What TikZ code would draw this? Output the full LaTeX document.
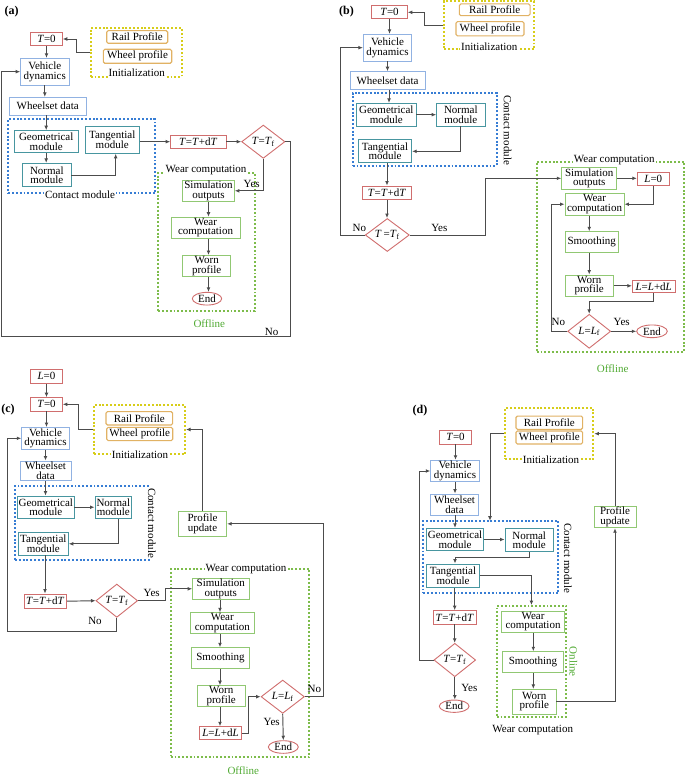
\documentclass[tikz,border=0pt]{standalone}
\usepackage{fontspec}
\setmainfont{Liberation Serif}
\usetikzlibrary{arrows.meta,shapes.geometric}
\definecolor{cRed}{RGB}{208,110,110}
\definecolor{cBlue}{RGB}{145,178,226}
\definecolor{cTeal}{RGB}{72,150,160}
\definecolor{cGreen}{RGB}{145,200,115}
\definecolor{cOrange}{RGB}{225,178,100}
\definecolor{cYellow}{RGB}{215,205,25}
\definecolor{cDBlue}{RGB}{55,125,212}
\definecolor{cDGreen}{RGB}{125,188,75}
\definecolor{cTxtGreen}{RGB}{80,170,50}
\newcommand\fs{\fontsize{11}{9.5}\selectfont\lineskiplimit=-6pt}
\newcommand\mkbox[6]{\node[#1,minimum width=#4pt,minimum height=#5pt] (#2) at (#3) {#6};}
\newcommand\iv[1]{\textit{#1}}
\tikzset{
  bxbase/.style={draw, line width=0.9pt, align=center, inner sep=1pt, font=\fs, fill=white},
  rbx/.style={bxbase, draw=cRed},
  bbx/.style={bxbase, draw=cBlue},
  tbx/.style={bxbase, draw=cTeal},
  gbx/.style={bxbase, draw=cGreen},
  obx/.style={bxbase, draw=cOrange, line width=1.1pt, rounded corners=1.5pt},
  rdia/.style={bxbase, shape=diamond, draw=cRed, inner sep=0pt, aspect=1.3},
  rell/.style={bxbase, shape=ellipse, draw=cRed, inner sep=0pt},
  grpbase/.style={line width=1.9pt, dash pattern=on 1.9pt off 1.9pt, inner sep=0pt, minimum width=10pt},
  ygrp/.style={grpbase, draw=cYellow},
  bgrp/.style={grpbase, draw=cDBlue},
  ggrp/.style={grpbase, draw=cDGreen},
  lab/.style={font=\fs, inner sep=1pt},
  blab/.style={lab, fill=white},
  glab/.style={lab, text=cTxtGreen},
  conn/.style={line width=0.95pt, draw=black!70, -{Latex[length=4.5pt,width=3.8pt]}},
  panel/.style={font=\bfseries\fontsize{12}{12}\selectfont, inner sep=0pt}
}
\begin{document}
\begin{tikzpicture}[x=1pt,y=-1pt]
\useasboundingbox (0,0) rectangle (685,778);
\fill[white] (0,0) rectangle (685,778);

%%%%%%%%%%%%%%%% Panel (a)
\node[panel] (pa) at (11.7,12) {(a)};
\node[ygrp,minimum width=91pt,minimum height=48.4pt] (initA) at (136.2,52.5) {};
\node[bgrp,minimum width=146.7pt,minimum height=74pt] (contactA) at (81.7,156.3) {};
\node[ggrp,minimum width=96.7pt,minimum height=138pt] (wcA) at (206.7,241.7) {};
\mkbox{rbx}{Ta0}{46.5,39}{31.6}{13.4}{\iv{T}=0}
\mkbox{obx}{railA}{137.2,37}{61}{12.6}{Rail Profile}
\mkbox{obx}{wheelA}{137.5,56.3}{68.4}{14}{Wheel profile}
\node[blab] (iniLA) at (136.7,72.7) {Initialization};
\mkbox{bbx}{vdA}{44.8,71.7}{48.3}{26.7}{Vehicle\\dynamics}
\mkbox{bbx}{wsA}{47.7,106.2}{76.7}{17.7}{Wheelset data}
\mkbox{tbx}{geoA}{46.2,141.7}{64.3}{22}{Geometrical\\module}
\mkbox{tbx}{norA}{46.8,175}{48.3}{23.4}{Normal\\module}
\mkbox{tbx}{tanA}{112.2,139.7}{54.3}{27.3}{Tangential\\module}
\node[blab] (cmLA) at (80,194.5) {Contact module};
\mkbox{rbx}{tdtA}{198.3,141.7}{55.3}{13.3}{\iv{T}=\iv{T}+d\iv{T}}
\mkbox{rdia}{dA}{263.3,141.7}{43.3}{33.3}{\iv{T}=\iv{T}\textsubscript{f}}
\node[blab] (wcLA) at (206,170.5) {Wear computation};
\mkbox{gbx}{simA}{208.5,190.8}{51.6}{21.7}{Simulation\\outputs}
\mkbox{gbx}{wearA}{205.5,227.7}{69}{20}{Wear\\computation}
\mkbox{gbx}{wornA}{206.7,266}{48}{20}{Worn\\profile}
\mkbox{rell}{endA}{207,298.7}{29.4}{12.7}{End}
\node[glab] (offA) at (209.3,324) {Offline};
\node[lab] (yesA) at (251.7,184) {Yes};
\node[lab] (noA) at (271.7,331.7) {No};
\coordinate (aR) at (290,336.7);
\coordinate (aL) at (1.7,336.7);
\draw[conn] (initA.west) -- ++(-13,0) |- (Ta0.east);
\draw[conn] (Ta0.south) -- (Ta0.south |- vdA.north);
\draw[conn] (vdA.south) -- (vdA.south |- wsA.north);
\draw[conn] (geoA.north |- wsA.south) -- (geoA.north);
\draw[conn] (geoA.south) -- (geoA.south |- norA.north);
\draw[conn] (norA.east) -| ([xshift=3.5pt]tanA.south);
\draw[conn] (tdtA.west -| tanA.east) -- (tdtA.west);
\draw[conn] (tdtA.east) -- (dA.west);
\draw[conn] (dA.east) -| (aR) -- (aL) |- (vdA.west);
\draw[conn] (dA.south) |- (simA.east);
\draw[conn] (simA.south) -- (simA.south |- wearA.north);
\draw[conn] (simA.south |- wearA.south) -- (simA.south |- wornA.north);
\draw[conn] (simA.south |- wornA.south) -- (simA.south |- endA.north);

%%%%%%%%%%%%%%%% Panel (b)
\node[panel] (pb) at (346.5,12) {(b)};
\node[ygrp,minimum width=90pt,minimum height=48.3pt] (initB) at (489.2,25.3) {};
\node[bgrp,minimum width=144pt,minimum height=73pt] (contactB) at (424.7,129.2) {};
\node[ggrp,minimum width=147.6pt,minimum height=190pt] (wcB) at (610.5,256.7) {};
\mkbox{rbx}{Tb0}{389.5,12.3}{35.6}{13.3}{\iv{T}=0}
\mkbox{obx}{railB}{494.7,9.8}{70.7}{11.7}{Rail Profile}
\mkbox{obx}{wheelB}{490,28.8}{68}{14.3}{Wheel profile}
\node[blab] (iniLB) at (489.3,46.7) {Initialization};
\mkbox{bbx}{vdB}{387.5,47.7}{48.3}{26.7}{Vehicle\\dynamics}
\mkbox{bbx}{wsB}{387.5,80.5}{75}{17.7}{Wheelset data}
\mkbox{tbx}{geoB}{386.3,114.7}{59.3}{22.7}{Geometrical\\module}
\mkbox{tbx}{norB}{460.8,114.7}{48.3}{22.7}{Normal\\module}
\mkbox{tbx}{tanB}{385,151.3}{53.3}{22.7}{Tangential\\module}
\node[lab,rotate=-90] (cmLB) at (507.7,130) {Contact module};
\mkbox{rbx}{tdtB}{387,192.7}{49.3}{13.3}{\iv{T}=\iv{T}+d\iv{T}}
\mkbox{rdia}{dB}{387.3,235}{44}{33}{\iv{T}\,=\iv{T}\textsubscript{f}}
\node[lab] (noB) at (359.3,227.7) {No};
\node[lab] (yesB) at (439.3,227.7) {Yes};
\node[blab] (wcLB) at (614.3,160.5) {Wear computation};
\mkbox{gbx}{simB}{589.2,178.3}{55}{20}{Simulation\\outputs}
\mkbox{rbx}{L0B}{653.3,179}{32}{13.4}{\iv{L}=0}
\mkbox{gbx}{wearB}{594.5,204.2}{59}{21.7}{Wear\\computation}
\mkbox{gbx}{smB}{591.7,242.2}{53.3}{21}{Smoothing}
\mkbox{gbx}{wornB}{589.2,285.8}{48.3}{21.7}{Worn\\profile}
\mkbox{rbx}{ldlB}{653.7,286.7}{42.7}{12}{\iv{L}=\iv{L}+d\iv{L}}
\mkbox{rdia}{dLB}{589.2,331.3}{43}{34}{\iv{L}=\iv{L}\textsubscript{f}}
\mkbox{rell}{endB}{652,331.3}{30.6}{12.7}{End}
\node[lab] (noB2) at (558.3,321.7) {No};
\node[lab] (yesB2) at (621.7,321.7) {Yes};
\node[glab] (offB) at (612.7,368.3) {Offline};
\coordinate (bL) at (340.7,235);
\coordinate (bR) at (485,235);
\coordinate (bM) at (589.2,301.7);
\coordinate (bN) at (551.7,331.3);
\draw[conn] (initB.west) -- ++(-19,0) |- (Tb0.east);
\draw[conn] (Tb0.south) -- (Tb0.south |- vdB.north);
\draw[conn] (vdB.south) -- (vdB.south |- wsB.north);
\draw[conn] ([xshift=1.5pt]wsB.south) -- ([xshift=1.5pt]wsB.south |- geoB.north);
\draw[conn] (geoB.east) -- (geoB.east -| norB.west);
\draw[conn] (norB.south) |- (tanB.east);
\draw[conn] (tdtB.north |- tanB.south) -- (tdtB.north);
\draw[conn] (tdtB.south) -- (tdtB.south |- dB.north);
\draw[conn] (dB.west) -- (bL) |- (vdB.west);
\draw[conn] (dB.east) -- (bR) |- (simB.west);
\draw[conn] (simB.east) -- (simB.east -| L0B.west);
\draw[conn] (L0B.south) |- (wearB.east);
\draw[conn] (wearB.south -| bM) -- (smB.north -| bM);
\draw[conn] (smB.south -| bM) -- (wornB.north -| bM);
\draw[conn] (wornB.east) -- (wornB.east -| ldlB.west);
\draw[conn] (ldlB.south) |- (bM) -- (dLB.north);
\draw[conn] (dLB.west) -- (bN) |- (wearB.west);
\draw[conn] (dLB.east) -- (endB.west);

%%%%%%%%%%%%%%%% Panel (c)
\node[panel] (pc) at (8,409.5) {(c)};
\node[ygrp,minimum width=90.7pt,minimum height=49pt] (initC) at (139.7,429.5) {};
\node[bgrp,minimum width=134.3pt,minimum height=74pt] (contactC) at (82.2,523) {};
\node[ggrp,minimum width=138.6pt,minimum height=187.4pt] (wcC) at (240,663) {};
\mkbox{rbx}{Lc0}{46.5,376.3}{31.6}{14}{\iv{L}=0}
\mkbox{rbx}{Tc0}{46.5,404.3}{31.6}{13.3}{\iv{T}=0}
\mkbox{obx}{railC}{139.3,418.3}{66.7}{13.3}{Rail Profile}
\mkbox{obx}{wheelC}{139.7,434}{66}{13.3}{Wheel profile}
\node[blab] (iniLC) at (140,454.3) {Initialization};
\mkbox{bbx}{vdC}{45.5,438.3}{47.6}{20}{Vehicle\\dynamics}
\mkbox{bbx}{wsC}{45.5,470.8}{51}{19.7}{Wheelset\\data}
\mkbox{tbx}{geoC}{45.8,507.2}{55}{22.3}{Geometrical\\module}
\mkbox{tbx}{norC}{113.3,507.2}{36.7}{22.3}{Normal\\module}
\mkbox{tbx}{tanC}{43.3,543.8}{50}{22.3}{Tangential\\module}
\node[blab,rotate=-90] (cmLC) at (152,523) {Contact module};
\mkbox{rbx}{tdtC}{45.3,601.2}{42.7}{14.3}{\iv{T}=\iv{T}+d\iv{T}}
\mkbox{rdia}{dC}{116.8,600.7}{41.7}{33.3}{\iv{T}=\iv{T}\textsubscript{f}}
\node[lab] (yesC) at (151.7,593.3) {Yes};
\node[lab] (noC) at (95,620.7) {No};
\mkbox{gbx}{puC}{202.5,523.8}{48.4}{24.3}{Profile\\update}
\node[blab] (wcLC) at (246,569.3) {Wear computation};
\mkbox{gbx}{simC}{220.8,588.8}{56.3}{21}{Simulation\\outputs}
\mkbox{gbx}{wearC}{222.3,623.3}{63.3}{20}{Wear\\computation}
\mkbox{gbx}{smC}{220.5,658}{57.6}{20.6}{Smoothing}
\mkbox{gbx}{wornC}{221.2,696.2}{47.7}{21}{Worn\\profile}
\mkbox{rbx}{ldlC}{220.5,733}{42.4}{12.6}{\iv{L}=\iv{L}+d\iv{L}}
\mkbox{rdia}{dLC}{282.7,696.7}{43.3}{33.3}{\iv{L}=\iv{L}\textsubscript{f}}
\mkbox{rell}{endC}{283.3,747}{30}{12.6}{End}
\node[lab] (yesC2) at (271.7,721.7) {Yes};
\node[lab] (noC2) at (314.3,689.3) {No};
\node[glab] (offC) at (243.3,770.7) {Offline};
\coordinate (cR) at (165.7,600.7);
\coordinate (cB) at (116.8,631.7);
\coordinate (cL) at (7.3,631.7);
\coordinate (cX) at (220,600);
\coordinate (cM) at (248.3,733);
\coordinate (cN) at (323.3,696.7);
\draw[conn] (Lc0.south) -- (Tc0.north);
\draw[conn] (initC.west) -- ++(-15.3,0) |- (Tc0.east);
\draw[conn] (Tc0.south) -- (Tc0.south |- vdC.north);
\draw[conn] (vdC.south) -- (vdC.south |- wsC.north);
\draw[conn] (wsC.south) -- (wsC.south |- geoC.north);
\draw[conn] (geoC.east) -- (norC.west);
\draw[conn] ([xshift=5pt]norC.south) |- (tanC.east);
\draw[conn] ([xshift=1.7pt]tanC.south) -- ([xshift=1.7pt]tanC.south |- tdtC.north);
\draw[conn] (tdtC.east) -- (dC.west);
\draw[conn] (dC.east) -- (cR) |- (simC.west);
\draw[conn] (dC.south) -- (cB) -- (cL) |- (vdC.west);
\draw[conn] (simC.south -| cX) -- (wearC.north -| cX);
\draw[conn] (wearC.south -| cX) -- (smC.north -| cX);
\draw[conn] (smC.south -| cX) -- (wornC.north -| cX);
\draw[conn] (wornC.south -| cX) -- (ldlC.north -| cX);
\draw[conn] (ldlC.east) -- (cM) |- (dLC.west);
\draw[conn] (dLC.south) -- (endC.north);
\draw[conn] (dLC.east) -- (cN) |- (puC.east);
\draw[conn] (puC.north) |- (initC.east);

%%%%%%%%%%%%%%%% Panel (d)
\node[panel] (pd) at (420,410.7) {(d)};
\node[ygrp,minimum width=88.3pt,minimum height=50.7pt] (initD) at (549.2,433.7) {};
\node[bgrp,minimum width=135pt,minimum height=72.6pt] (contactD) at (490.8,557) {};
\node[ggrp,minimum width=69.3pt,minimum height=110.7pt] (onD) at (531.4,661.4) {};
\mkbox{rbx}{Td0}{455.5,437.3}{32.4}{13.3}{\iv{T}=0}
\mkbox{obx}{railD}{549.3,422.7}{66.7}{13.3}{Rail Profile}
\mkbox{obx}{wheelD}{549.3,437.5}{66.7}{13}{Wheel profile}
\node[blab] (iniLD) at (551,459.3) {Initialization};
\mkbox{bbx}{vdD}{455,471}{48.6}{20}{Vehicle\\dynamics}
\mkbox{bbx}{wsD}{454.5,504.5}{47.6}{21}{Wheelset\\data}
\mkbox{tbx}{geoD}{455,539.5}{56.6}{22.4}{Geometrical\\module}
\mkbox{tbx}{norD}{529.2,540}{48.3}{23.4}{Normal\\module}
\mkbox{tbx}{tanD}{453,575.8}{52.6}{23.7}{Tangential\\module}
\node[lab,rotate=-90] (cmLD) at (568,558.3) {Contact module};
\mkbox{gbx}{puD}{615,517}{42}{20.6}{Profile\\update}
\mkbox{rbx}{tdtD}{454.7,617.3}{42.7}{13.3}{\iv{T}=\iv{T}+d\iv{T}}
\mkbox{rdia}{dD}{454.8,660}{41.7}{33.4}{\iv{T}=\iv{T}\textsubscript{f}}
\mkbox{rell}{endD}{454.2,706.2}{29.7}{12.3}{End}
\node[lab] (yesD) at (469.3,688.3) {Yes};
\mkbox{gbx}{wearD}{533,621.7}{62.6}{20}{Wear\\computation}
\mkbox{gbx}{smD}{533,662.2}{60.6}{21}{Smoothing}
\mkbox{gbx}{wornD}{534.3,701.7}{43.3}{24.7}{Worn\\profile}
\node[glab,rotate=-90] (onLD) at (573.3,661.7) {Online};
\node[lab] (wcLD) at (532.7,730) {Wear computation};
\coordinate (dI) at (490,520.7);
\coordinate (dN1) at (455,557.3);
\coordinate (dX) at (533.3,600);
\coordinate (dL) at (419.3,660);
\draw[conn] (Td0.south) -- (Td0.south |- vdD.north);
\draw[conn] (vdD.south) -- (vdD.south |- wsD.north);
\draw[conn] (geoD.north |- wsD.south) -- (geoD.north);
\draw[conn] (geoD.east) -- (geoD.east -| norD.west);
\draw[conn] (norD.south) |- (dN1) -- (dN1 |- tanD.north);
\draw[conn] (tanD.east) -| (onD.north);
\draw[conn] (tdtD.north |- tanD.south) -- (tdtD.north);
\draw[conn] (tdtD.south) -- (tdtD.south |- dD.north);
\draw[conn] (dD.south) -- (dD.south |- endD.north);
\draw[conn] (dD.west) -- (dL) |- (vdD.west);
\draw[conn] (initD.west) -| (dI);
\draw[conn] (wearD.south -| dX) -- (smD.north -| dX);
\draw[conn] (smD.south -| dX) -- (wornD.north -| dX);
\draw[conn] (wornD.east) -| (puD.south);
\draw[conn] (puD.north) |- (initD.east);
\end{tikzpicture}
\end{document}
